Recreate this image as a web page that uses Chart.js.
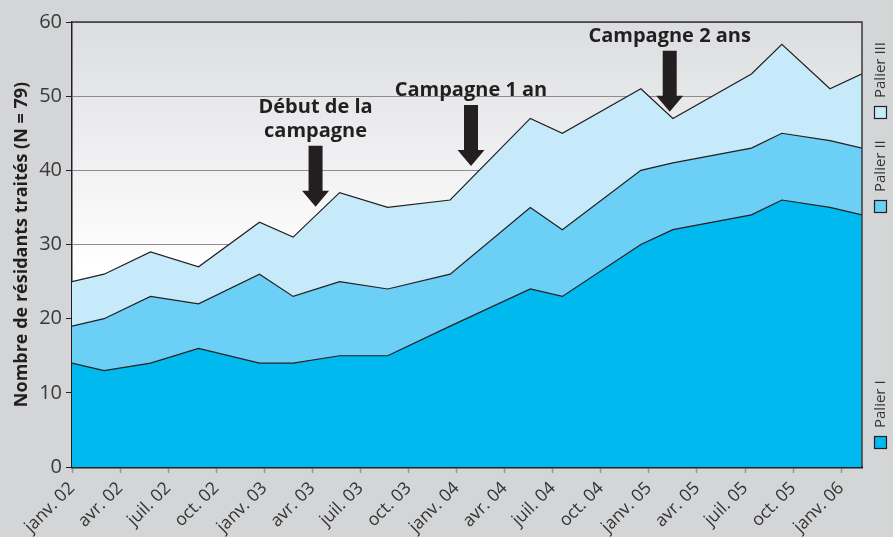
<!DOCTYPE html>
<html lang="fr">
<head>
<meta charset="utf-8">
<title>Résidants traités par palier</title>
<script src="https://cdn.jsdelivr.net/npm/chart.js@4.4.1/dist/chart.umd.min.js"></script>
<style>
    html, body { margin: 0; padding: 0; background: #d4d5d7; }
    canvas { display: block; }
</style>
</head>
<body>
<canvas id="chart" width="893" height="537"></canvas>
<script>
// Mois écoulés depuis janv. 02 pour chaque relevé
const monthOffsets = [0, 2, 4.9, 7.9, 11.7, 13.8, 16.7, 19.7, 23.6, 28.6, 30.6, 35.5, 37.5, 42.4, 44.3, 47.3, 49.3];
const palier1 = [14, 13, 14, 16, 14, 14, 15, 15, 19, 24, 23, 30, 32, 34, 36, 35, 34];
const palier2 = [5, 7, 9, 6, 12, 9, 10, 9, 7, 11, 9, 10, 9, 9, 9, 9, 9];
const palier3 = [6, 6, 6, 5, 7, 8, 12, 11, 10, 12, 13, 11, 6, 10, 12, 7, 10];

const tickLabels = ['janv. 02', 'avr. 02', 'juil. 02', 'oct. 02', 'janv. 03', 'avr. 03', 'juil. 03', 'oct. 03',
    'janv. 04', 'avr. 04', 'juil. 04', 'oct. 04', 'janv. 05', 'avr. 05', 'juil. 05', 'oct. 05', 'janv. 06'];
const seriesNames = ['Palier I', 'Palier II', 'Palier III'];
const seriesColors = ['#00b9ef', '#6bcff6', '#c6eafa'];

// Flèches : mois visé et valeur de la pointe
const campaignLabels = [['Début de la', 'campagne'], ['Campagne 1 an'], ['Campagne 2 ans']];
const campaignMonths = [15.2, 24.9, 37.3];
const campaignTips = [35.1, 40.6, 47.9];

const FONT = '"Open Sans", "Noto Sans", sans-serif';
Chart.defaults.font.family = FONT;
Chart.defaults.color = '#333';

function toPoints(values) {
    return values.map((v, i) => ({ x: monthOffsets[i], y: v }));
}

const series = [palier1, palier2, palier3];
const datasets = series.map((vals, i) => ({
    label: seriesNames[i],
    data: toPoints(vals),
    backgroundColor: seriesColors[i],
    borderColor: '#231f20',
    borderWidth: 1.2,
    pointRadius: 0,
    tension: 0,
    fill: i === 0 ? 'origin' : '-1'
}));

// fond dégradé de la zone de tracé
const plotBackground = {
    id: 'plotBackground',
    beforeDraw(chart) {
        const { ctx, chartArea: a } = chart;
        const g = ctx.createLinearGradient(0, a.top, 0, a.bottom);
        g.addColorStop(0, '#dcdde0');
        g.addColorStop(0.55, '#ffffff');
        g.addColorStop(1, '#ffffff');
        ctx.save();
        ctx.fillStyle = g;
        ctx.fillRect(a.left, a.top, a.right - a.left, a.bottom - a.top);
        ctx.restore();
    }
};

const frameAndArrows = {
    id: 'frameAndArrows',
    afterDatasetsDraw(chart) {
        const { ctx, chartArea: a, scales: { x, y } } = chart;
        ctx.save();
        // cadre haut et droite
        ctx.strokeStyle = '#3a3a3a';
        ctx.lineWidth = 1.5;
        ctx.beginPath();
        ctx.moveTo(a.left, a.top);
        ctx.lineTo(a.right, a.top);
        ctx.lineTo(a.right, a.bottom);
        ctx.stroke();

        ctx.fillStyle = '#231f20';
        ctx.font = 'bold 20px ' + FONT;
        ctx.textAlign = 'center';
        ctx.textBaseline = 'alphabetic';
        campaignMonths.forEach((m, i) => {
            const cx = x.getPixelForValue(m);
            const tip = y.getPixelForValue(campaignTips[i]);
            const top = tip - 61;
            const head = tip - 16;
            ctx.beginPath();
            ctx.moveTo(cx - 7, top);
            ctx.lineTo(cx + 7, top);
            ctx.lineTo(cx + 7, head);
            ctx.lineTo(cx + 13.5, head);
            ctx.lineTo(cx, tip);
            ctx.lineTo(cx - 13.5, head);
            ctx.lineTo(cx - 7, head);
            ctx.closePath();
            ctx.fill();
            const lines = campaignLabels[i];
            lines.forEach((t, k) => {
                ctx.fillText(t, cx, top - 9 - (lines.length - 1 - k) * 24);
            });
        });
        ctx.restore();
    }
};

// légende verticale à droite
const sideLegend = {
    id: 'sideLegend',
    afterDraw(chart) {
        const { ctx } = chart;
        const boxTops = [436, 200, 106];
        ctx.save();
        ctx.font = '15px ' + FONT;
        ctx.textAlign = 'left';
        ctx.textBaseline = 'middle';
        seriesNames.forEach((name, i) => {
            const bx = 874, by = boxTops[i];
            ctx.fillStyle = seriesColors[i];
            ctx.fillRect(bx, by, 13, 13);
            ctx.strokeStyle = '#231f20';
            ctx.lineWidth = 1.2;
            ctx.strokeRect(bx + 0.5, by + 0.5, 12, 12);
            ctx.save();
            ctx.translate(bx + 7, by - 8);
            ctx.rotate(-Math.PI / 2);
            ctx.fillStyle = '#333';
            ctx.fillText(name, 0, 0);
            ctx.restore();
        });
        ctx.restore();
    }
};

new Chart(document.getElementById('chart'), {
    type: 'line',
    data: { datasets },
    options: {
        responsive: false,
        animation: false,
        layout: { padding: { top: 22, right: 31, left: 0, bottom: 0 } },
        plugins: {
            legend: { display: false },
            tooltip: { enabled: false }
        },
        scales: {
            x: {
                type: 'linear',
                min: 0,
                max: monthOffsets[monthOffsets.length - 1],
                afterFit: s => { s.height = 70; },
                border: { display: true, color: '#231f20', width: 2.5 },
                grid: { drawOnChartArea: false, drawTicks: true, tickLength: 6, tickColor: '#7f9aa8', tickWidth: 1.5 },
                ticks: {
                    stepSize: 3,
                    includeBounds: false,
                    autoSkip: false,
                    minRotation: 45,
                    maxRotation: 45,
                    padding: 5,
                    color: '#333',
                    font: { size: 17.5 },
                    callback: v => tickLabels[Math.round(v / 3)] || ''
                }
            },
            y: {
                stacked: true,
                min: 0,
                max: 60,
                afterFit: s => { s.width = 72; },
                border: { display: true, color: '#231f20', width: 1.5 },
                grid: { color: '#8c8c8c', lineWidth: 1, tickLength: 6, tickColor: '#231f20' },
                ticks: {
                    stepSize: 10,
                    padding: 4,
                    color: '#3a3a3a',
                    font: { size: 20 }
                },
                title: {
                    display: true,
                    text: 'Nombre de résidants traités (N = 79)',
                    color: '#231f20',
                    font: { size: 18, weight: 'bold' },
                    padding: { top: 11, bottom: 0 }
                }
            }
        }
    },
    plugins: [plotBackground, frameAndArrows, sideLegend]
});
</script>
</body>
</html>
